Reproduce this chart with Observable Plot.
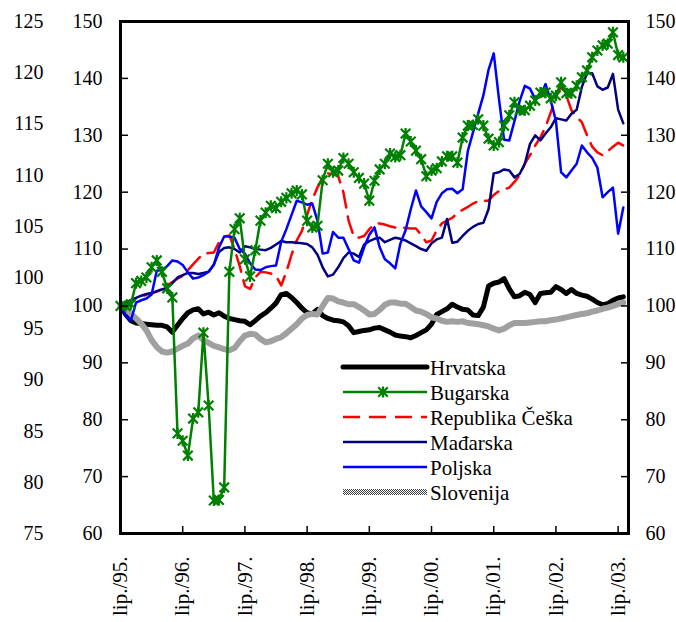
<!DOCTYPE html>
<html><head><meta charset="utf-8">
<script src="https://cdn.jsdelivr.net/npm/d3@7"></script>
<script src="https://cdn.jsdelivr.net/npm/@observablehq/plot@0.6"></script>
<style>
body{margin:0;background:#fff;}
#chart{position:relative;width:676px;height:622px;}
#chart svg, #chart svg text { font-family: "Liberation Serif", "DejaVu Serif", serif !important; }
</style></head><body><div id="chart"></div>
<script>
// Month index 0 = lipanj 1995 ... 97 = srpanj 2003
const tickMonths = [0, 12, 24, 36, 48, 60, 72, 84, 96];
const tickLabels = ["lip./95.", "lip./96.", "lip./97.", "lip./98.", "lip./99.", "lip./00.", "lip./01.", "lip./02.", "lip./03."];
const innerTicks = [60, 70, 80, 90, 100, 110, 120, 130, 140, 150];
const outerTicks = [75, 80, 85, 90, 95, 100, 105, 110, 115, 120, 125];

const hrvatska = [100, 98.5, 97.4, 97.0, 96.9, 96.8, 96.7, 96.6, 96.6, 96.3,
  95.4, 96.6, 97.8, 98.8, 99.3, 99.5, 98.6, 98.9, 98.4, 98.8,
  98.2, 97.8, 97.6, 97.4, 97.3, 96.7, 97.4, 98.2, 98.8, 99.6,
  100.5, 102.0, 102.2, 101.5, 100.6, 99.6, 98.8, 98.6, 99.4, 98.3,
  97.8, 97.5, 97.4, 97.2, 96.5, 95.3, 95.5, 95.7, 95.8, 96.1,
  96.2, 95.8, 95.4, 94.9, 94.7, 94.6, 94.4, 94.8, 95.3, 95.8,
  96.8, 98.5, 99.0, 99.5, 100.3, 99.8, 99.4, 99.3, 98.4, 98.3,
  99.8, 103.5, 104.0, 104.2, 104.8, 103.0, 101.6, 101.8, 102.4, 102.0,
  100.6, 102.2, 102.3, 102.4, 103.4, 102.9, 102.2, 102.9, 102.2, 101.9,
  101.7, 101.2, 100.6, 100.2, 100.4, 101.0, 101.4, 101.6];

const bugarska = [100, 100, 100.3, 104, 104.4, 105, 106.8, 108, 106, 103.1,
  101.5, 77.6, 76.3, 73.7, 80.2, 81.3, 95.3, 82.5, 65.8, 65.9,
  68.1, 106, 113.5, 115.4, 108.2, 105.2, 109.8, 115, 116.4, 117.6,
  117.2, 118.3, 119, 119.8, 120.3, 119.6, 115, 113.8, 114.1, 122.1,
  125, 123.5, 123.8, 126, 125, 123.5, 122.5, 121.5, 118.5, 122,
  124, 125, 126.8, 126.2, 126.5, 130.3, 128.9, 127.3, 125.8, 122.8,
  123.8, 124.2, 125.4, 126.3, 126.3, 125.2, 129.6, 131.7, 131.8, 132.8,
  131.7, 129.4, 128.2, 128.8, 131.7, 133.5, 135.8, 134.4, 134.4, 135.2,
  136.1, 137.5, 137.5, 136.5, 137, 139.3, 137.4, 137.4, 138.7, 140.2,
  141.4, 143.7, 144.9, 145.8, 146.1, 148.1, 144.1, 143.7];

const ceska = [100, 100.3, 100.8, 101.3, 101.6, 102, 102.2, 102.5, 103, 103.6,
  104.2, 104.8, 105.3, 106.3, 107.3, 108.3, 109.2, 109.3, 109.4, 111.2,
  112.2, 112.4, 110, 107, 103.5, 103, 105, 106, 105.9, 105.7,
  105.3, 103.6, 106, 109, 111.5, 113.2, 116, 118.8, 120.8, 122.6,
  123.3, 123.2, 122.8, 120, 115, 112.2, 112, 112.3, 113.5, 114.4,
  114.5, 114.3, 114, 113.8, 113.8, 113.7, 113.6, 113.6, 112.5, 111.2,
  111.5, 113.3, 114.5, 115, 115.5, 116.3, 116.9, 117.4, 118, 118.4,
  118.5, 118.5, 119.5, 120.2, 120.5, 120.8, 121.8, 123, 125, 126.5,
  128.2, 129.6, 131.5, 134, 136.8, 138.6, 137, 134.4, 133.2, 132.3,
  130, 128, 127, 126.5, 127.2, 128, 128.7, 128.2];

const madarska = [100, 100.6, 101, 101.4, 101.8, 102.1, 102.3, 102.6, 102.9, 103.2,
  104, 105, 105.4, 105.8, 105.8, 105.6, 105.8, 106, 107.3, 109.5,
  110.2, 110.3, 110, 109.4, 110.5, 110.3, 110, 109.9, 109.8, 110.2,
  110.8, 111.4, 111.2, 111.2, 111.1, 111, 110.9, 110.3, 109, 106.8,
  105.2, 105.5, 106.8, 108.4, 109.4, 109.2, 108.6, 110.8, 111.4, 111.8,
  112, 111.2, 111.6, 112, 111.8, 111.5, 111, 110.5, 110, 109.7,
  111, 111.7, 112, 115.3, 111.1, 111.3, 112.3, 113.2, 113.9, 114.4,
  114.6, 117, 123.3, 123.5, 124, 123.8, 122.6, 123.2, 125, 128.5,
  130, 129.1, 130.3, 131.4, 133, 132.8, 132.6, 133.8, 134.5, 138.5,
  140.9, 140.9, 138.6, 138, 138.4, 140.8, 134.5, 132.1];

const poljska = [100, 98.3, 97.4, 100.6, 101, 101.3, 102, 106.2, 106.3, 107,
  108, 107.8, 107.2, 105.9, 104.8, 105, 105.4, 106, 107.2, 110.3,
  112.2, 112.2, 112, 110, 109.2, 107.5, 106.4, 106.3, 106.8, 107,
  107.1, 111.3, 113.5, 116, 118.5, 118.2, 117.8, 118, 115, 109.2,
  109.4, 113, 112, 112, 110, 108, 107.6, 110.3, 112.5, 113.8,
  110.3, 108.2, 107.5, 106.6, 111, 113.3, 117, 120.3, 117.5, 116.5,
  115.4, 118.3, 119.8, 120.5, 120.6, 119.8, 120.5, 127.2, 130.5, 133.8,
  137, 141.5, 144.4, 136.5, 129.2, 129.1, 132.5, 136, 138.7, 138.2,
  136.4, 136.8, 139, 136.1, 132.5, 123.5, 122.6, 123.8, 125, 128.2,
  127, 126, 124.3, 119.1, 120, 120.8, 112.7, 117.3];

const slovenija = [100, 99.6, 98.6, 97.8, 96.9, 95.7, 94.0, 92.8, 92.0, 91.8,
  92.0, 92.5, 93.0, 93.4, 94.3, 94.8, 94.0, 93.5, 93.0, 92.7,
  92.4, 92.2, 92.6, 93.8, 94.8, 95.1, 95.0, 94.2, 93.6, 93.8,
  94.2, 94.5, 95.2, 96.0, 96.8, 97.8, 98.4, 98.6, 98.5, 100.0,
  101.4, 101.3, 100.8, 100.6, 100.3, 100.3, 99.8, 99.2, 98.5, 98.6,
  99.3, 100.2, 100.6, 100.6, 100.4, 100.4, 99.8, 99.2, 99.0, 98.6,
  98.0, 97.8, 97.4, 97.2, 97.3, 97.2, 97.3, 97.0, 96.9, 96.8,
  96.6, 96.4, 96.0, 95.7, 96.0, 96.6, 97.0, 97.0, 97.0, 97.1,
  97.2, 97.3, 97.3, 97.5, 97.6, 97.8, 98.0, 98.2, 98.4, 98.6,
  98.7, 99.0, 99.2, 99.5, 99.7, 100.0, 100.3, 100.6];

const serif = "Liberation Serif, DejaVu Serif, serif";
const green = "#008000";
const asterisk = {
  draw(ctx, size) {
    const r = Math.sqrt(size / Math.PI);
    ctx.moveTo(-r, -r); ctx.lineTo(r, r);
    ctx.moveTo(-r, r); ctx.lineTo(r, -r);
    ctx.moveTo(0, -r * 1.15); ctx.lineTo(0, r * 1.15);
  }
};
const toInner = v => 60 + (v - 75) * 90 / 50;
const fromInner = d => Math.round(75 + (d - 60) * 50 / 90);
const idx = (d, i) => i;
const val = d => d;

const chart = Plot.plot({
  width: 676, height: 622,
  marginLeft: 120, marginRight: 48, marginTop: 21, marginBottom: 89,
  style: {fontFamily: serif, background: "white", color: "black"},
  x: {domain: [0, 98], axis: null},
  y: {domain: [60, 150], axis: null},
  marks: [
    Plot.lineY(hrvatska, {x: idx, y: val, stroke: "black", strokeWidth: 5}),
    Plot.lineY(slovenija, {x: idx, y: val, stroke: "url(#slo-hatch)", strokeWidth: 6}),
    Plot.lineY(ceska, {x: idx, y: val, stroke: "#ff0000", strokeWidth: 2.5, strokeDasharray: "17,9"}),
    Plot.lineY(madarska, {x: idx, y: val, stroke: "#000080", strokeWidth: 2.5}),
    Plot.lineY(poljska, {x: idx, y: val, stroke: "#0000ff", strokeWidth: 2.5}),
    Plot.lineY(bugarska, {x: idx, y: val, stroke: green, strokeWidth: 2.5}),
    Plot.dot(bugarska, {x: idx, y: val, symbol: asterisk, r: 4.8, stroke: green, strokeWidth: 2.2, fill: "none"}),
    Plot.frame({stroke: "black", strokeWidth: 3}),
    Plot.axisY({anchor: "left", ticks: innerTicks, tickSize: -8, fill: "none", strokeWidth: 1.5, label: null}),
    Plot.axisY({anchor: "right", ticks: innerTicks, tickSize: -8, fill: "none", strokeWidth: 1.5, label: null}),
    Plot.axisX({ticks: tickMonths, tickSize: -7, fill: "none", strokeWidth: 1.5, label: null}),
    Plot.axisY({anchor: "left", ticks: innerTicks, tickSize: 0, tickPadding: 18, fontSize: 20, label: null}),
    Plot.axisY({anchor: "left", ticks: outerTicks.map(toInner), tickSize: 0, tickPadding: 77, fontSize: 20, tickFormat: fromInner, label: null}),
    Plot.axisY({anchor: "right", ticks: innerTicks, tickSize: 0, tickPadding: 17, fontSize: 20, label: null}),
    Plot.axisX({ticks: tickMonths, tickSize: 0, tickPadding: 23, tickRotate: -90, fontSize: 21,
      tickFormat: d => tickLabels[tickMonths.indexOf(d)], label: null})
  ]
});

const svg = d3.select(chart);
const defs = svg.insert("defs", ":first-child");
const pat = defs.append("pattern").attr("id", "slo-hatch").attr("patternUnits", "userSpaceOnUse")
  .attr("width", 2).attr("height", 2);
pat.append("rect").attr("width", 2).attr("height", 2).attr("fill", "#ffffff");
pat.append("rect").attr("width", 1).attr("height", 1).attr("fill", "#404040");
pat.append("rect").attr("x", 1).attr("y", 1).attr("width", 1).attr("height", 1).attr("fill", "#404040");

// Legend
const legendItems = [
  {name: "Hrvatska", stroke: "black", width: 5},
  {name: "Bugarska", stroke: green, width: 2.5, marker: true},
  {name: "Republika Češka", stroke: "#ff0000", width: 2.5, dash: "17,9"},
  {name: "Mađarska", stroke: "#000080", width: 2.5},
  {name: "Poljska", stroke: "#0000ff", width: 2.5},
  {name: "Slovenija", hatch: true}
];
const lg = svg.append("g").attr("font-family", serif).attr("font-size", 21).attr("text-anchor", "start");
legendItems.forEach((it, i) => {
  const y = 367 + i * 25;
  if (it.hatch) {
    lg.append("line").attr("x1", 343).attr("x2", 427).attr("y1", y).attr("y2", y).attr("stroke", "url(#slo-hatch)").attr("stroke-width", 6);
  } else {
    lg.append("line").attr("x1", 343).attr("x2", 427).attr("y1", y).attr("y2", y)
      .attr("stroke", it.stroke).attr("stroke-width", it.width)
      .attr("stroke-dasharray", it.dash || null)
      .attr("stroke-linecap", it.width > 3 ? "round" : null);
  }
  if (it.marker) {
    const r = 4.8, cx = 383;
    lg.append("path").attr("d", `M${cx - r},${y - r}L${cx + r},${y + r}M${cx - r},${y + r}L${cx + r},${y - r}M${cx},${y - r * 1.15}L${cx},${y + r * 1.15}`)
      .attr("stroke", green).attr("stroke-width", 2.2).attr("fill", "none");
  }
  lg.append("text").attr("x", 430).attr("y", y + 8).attr("fill", "black").text(it.name);
});

document.getElementById("chart").appendChild(chart);
</script>
</body></html>
